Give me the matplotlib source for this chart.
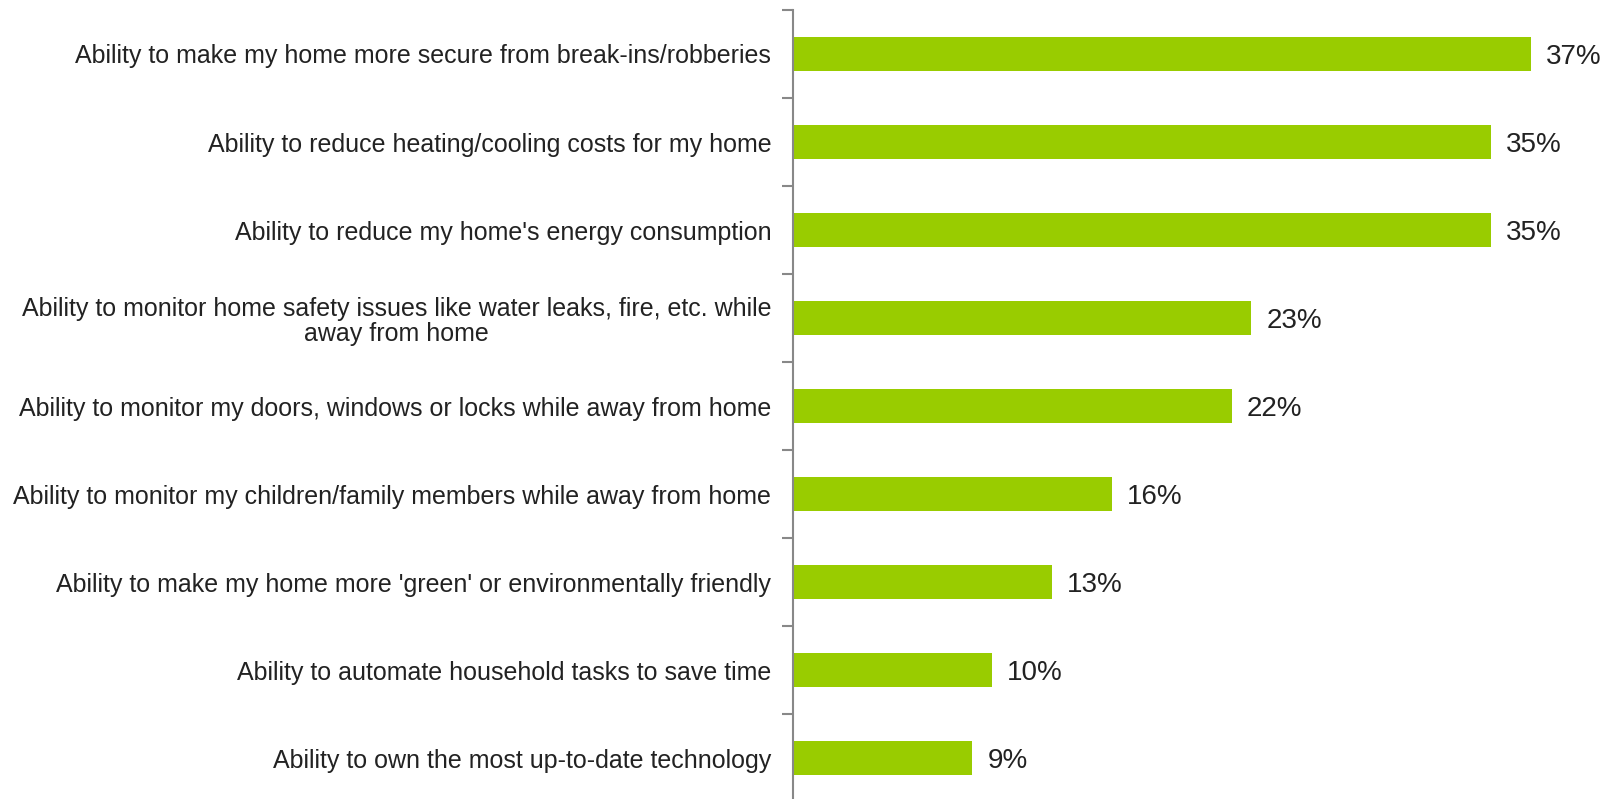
import matplotlib.pyplot as plt
import numpy as np

# survey results: share of respondents citing each benefit
labels = [
    "Ability to make my home more secure from break-ins/robberies",
    "Ability to reduce heating/cooling costs for my home",
    "Ability to reduce my home's energy consumption",
    "Ability to monitor home safety issues like water leaks, fire, etc. while\naway from home",
    "Ability to monitor my doors, windows or locks while away from home",
    "Ability to monitor my children/family members while away from home",
    "Ability to make my home more 'green' or environmentally friendly",
    "Ability to automate household tasks to save time",
    "Ability to own the most up-to-date technology",
]
values = [37, 35, 35, 23, 22, 16, 13, 10, 9]

plt.rcParams["font.family"] = ["Liberation Sans", "DejaVu Sans"]

fig = plt.figure(figsize=(16.18, 7.99), dpi=100)
ax = fig.add_axes([0.490, -0.004, 0.493, 0.9915])

n = len(values)
y = np.arange(n)
ax.barh(y, values, height=0.39, color="#99cc00")

for yi, v in zip(y, values):
    ax.text(v + 0.75, yi + 0.03, f"{v}%", va="center", ha="left",
            fontsize=20, color="#222222")

ax.set_ylim(n - 0.5, -0.5)
ax.set_xlim(0, 40)

# category labels on major ticks, boundary marks on minor ticks
ax.set_yticks(y)
ax.set_yticklabels(labels, fontsize=18, color="#222222", multialignment="center",
                   linespacing=1.05)
ax.set_yticks(np.arange(n + 1) - 0.5, minor=True)
ax.tick_params(axis="y", which="major", length=0, pad=15.5)
ax.tick_params(axis="y", which="minor", length=8, width=1.5, color="#888888")
ax.set_xticks([])

for side in ["top", "right", "bottom"]:
    ax.spines[side].set_visible(False)
ax.spines["left"].set_color("#888888")
ax.spines["left"].set_linewidth(1.5)

fig.savefig("out.png", dpi=100)
